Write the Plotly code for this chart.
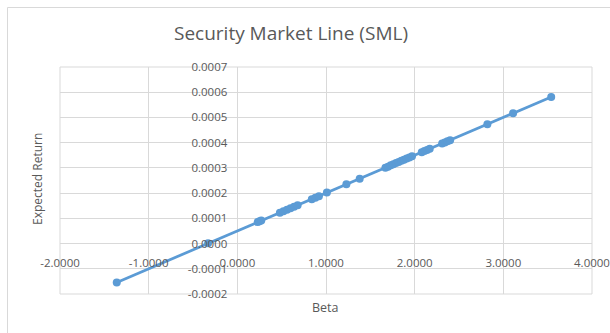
import plotly.graph_objects as go

# Data
beta = [-1.36, -0.33, 0.23, 0.25, 0.27, 0.48, 0.52, 0.56, 0.60, 0.64, 0.68,
        0.84, 0.88, 0.92, 1.01, 1.23, 1.38, 1.67, 1.70, 1.73, 1.76, 1.79,
        1.82, 1.85, 1.88, 1.91, 1.94, 1.97, 2.08, 2.11, 2.14, 2.17, 2.31,
        2.34, 2.37, 2.40, 2.82, 3.11, 3.54]
expected_return = [-0.000154, 0.000001, 0.000085, 0.000088, 0.000091,
                   0.000122, 0.000128, 0.000134, 0.000140, 0.000146,
                   0.000152, 0.000176, 0.000182, 0.000188, 0.000202,
                   0.000235, 0.000257, 0.000301, 0.000305, 0.000310,
                   0.000314, 0.000319, 0.000323, 0.000328, 0.000332,
                   0.000337, 0.000341, 0.000346, 0.000362, 0.000367,
                   0.000371, 0.000376, 0.000397, 0.000401, 0.000406,
                   0.000410, 0.000473, 0.000517, 0.000581]

x_tick_values = [-2, -1, 0, 1, 2, 3, 4]
x_tick_labels = ["-2.0000", "-1.0000", "0.0000", "1.0000", "2.0000",
                 "3.0000", "4.0000"]
y_tick_values = [-0.0002, -0.0001, 0.0, 0.0001, 0.0002, 0.0003, 0.0004,
                 0.0005, 0.0006, 0.0007]
y_tick_labels = ["-0.0002", "-0.0001", "0.0000", "0.0001", "0.0002",
                 "0.0003", "0.0004", "0.0005", "0.0006", "0.0007"]

title_text = "Security Market Line (SML)"
x_title = "Beta"
y_title = "Expected Return"

W, H = 610, 333
L, R, T, B = 60, 18, 67, 39
pw, ph = W - L - R, H - T - B

FONT = "Open Sans"
GRAY = "#595959"
GRID = "#D9D9D9"
BLUE = "#5B9BD5"

x_range = [-2, 4]
y_range = [-0.0002, 0.0007]

fig = go.Figure()
fig.add_trace(go.Scatter(
    x=beta, y=expected_return, mode="lines+markers",
    line=dict(color=BLUE, width=2.75),
    marker=dict(color=BLUE, size=8),
    showlegend=False, hoverinfo="x+y",
))


def px_to_paper_x(px):
    return (px - L) / pw


def px_to_paper_y(py):
    return (H - B - py) / ph


fig.update_layout(
    width=W, height=H,
    margin=dict(l=L, r=R, t=T, b=B),
    paper_bgcolor="white", plot_bgcolor="white",
    font=dict(family=FONT, color=GRAY),
    title=dict(text=title_text, x=291 / W, xanchor="center",
               y=1 - 33 / H, yanchor="middle", yref="container",
               font=dict(size=19, color=GRAY, family=FONT)),
    xaxis=dict(range=x_range, tickvals=x_tick_values, ticktext=x_tick_labels,
               showgrid=True, gridcolor=GRID, gridwidth=1,
               zeroline=True, zerolinecolor=GRID, zerolinewidth=1,
               showline=False, ticks="", anchor="free",
               position=(0 - y_range[0]) / (y_range[1] - y_range[0]),
               ticklabelstandoff=11,
               tickfont=dict(size=11.5, color=GRAY, family=FONT),
               automargin=False, fixedrange=True),
    yaxis=dict(range=y_range, tickvals=y_tick_values, ticktext=y_tick_labels,
               showgrid=True, gridcolor=GRID, gridwidth=1,
               zeroline=True, zerolinecolor=GRID, zerolinewidth=1,
               showline=False, ticks="", anchor="free",
               position=(0 - x_range[0]) / (x_range[1] - x_range[0]),
               ticklabelstandoff=10,
               tickfont=dict(size=11.5, color=GRAY, family=FONT),
               automargin=False, fixedrange=True),
    shapes=[
        dict(type="rect", xref="paper", yref="paper", x0=0, x1=1, y0=0, y1=1,
             line=dict(color=GRID, width=1), layer="below"),
        dict(type="rect", xref="paper", yref="paper",
             x0=px_to_paper_x(7.5), x1=px_to_paper_x(640),
             y0=px_to_paper_y(360), y1=px_to_paper_y(7.5),
             line=dict(color=GRID, width=1), layer="below"),
    ],
    annotations=[
        dict(text=x_title, xref="paper", yref="paper",
             x=px_to_paper_x(325), y=px_to_paper_y(307),
             xanchor="center", yanchor="middle", showarrow=False,
             font=dict(size=12.5, color=GRAY, family=FONT)),
        dict(text=y_title, xref="paper", yref="paper",
             x=px_to_paper_x(37), y=px_to_paper_y(179),
             xanchor="center", yanchor="middle", showarrow=False,
             textangle=-90,
             font=dict(size=12, color=GRAY, family=FONT)),
    ],
)

fig.write_html("out.html", config=dict(displayModeBar=False))
